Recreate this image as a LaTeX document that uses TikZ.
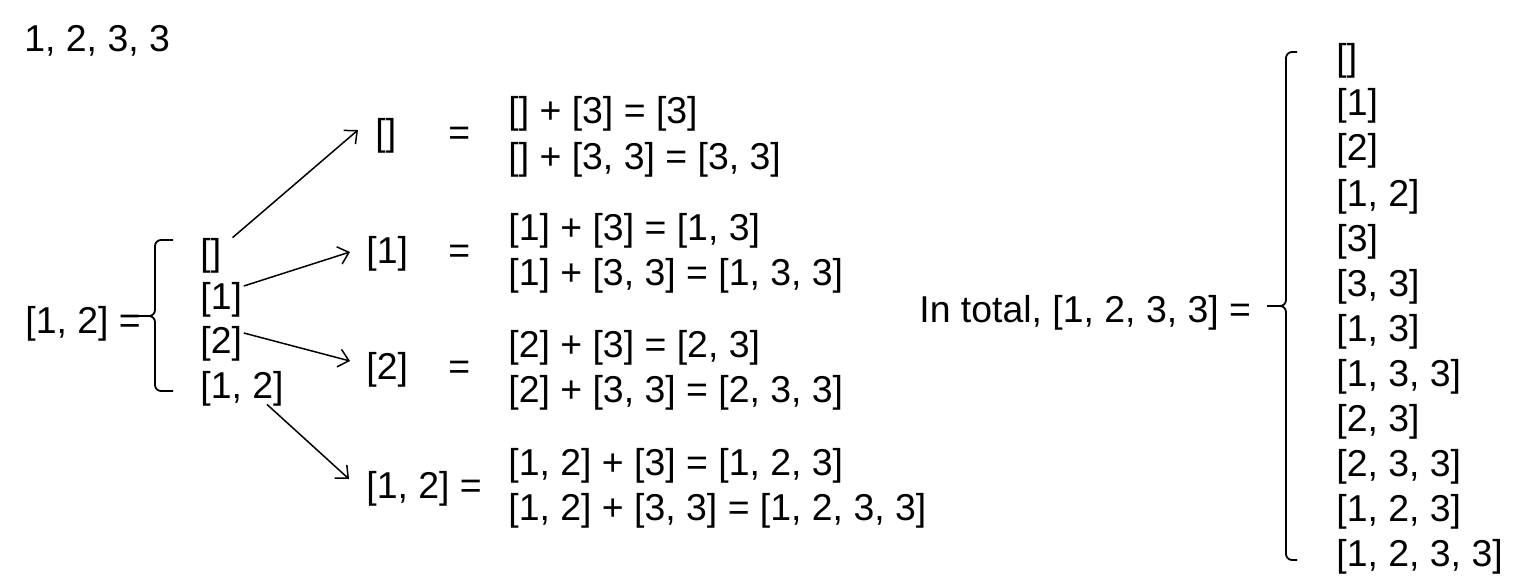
\documentclass[tikz,border=0pt]{standalone}
\usepackage{fontspec}
\setmainfont{Liberation Sans}
\usetikzlibrary{arrows.meta}

\tikzset{
  txt/.style={inner sep=0pt, anchor=west, text height=17.65pt, text depth=3.93pt},
  arr/.style={-{Straight Barb[length=5pt,width=9pt]}, line width=0.75pt},
  brace/.style={line width=0.9pt, rounded corners=3pt}
}

\begin{document}
\begin{tikzpicture}[x=0.5pt, y=-0.5pt, font=\fontsize{18.7pt}{22pt}\selectfont]
      \useasboundingbox (0,0) rectangle (1526,584);
      \node (top)[txt] at (24,38){1, 2, 3, 3};
      % left side
      \node (lhs)[txt] at (25,320){[1, 2] =};
      \draw [brace](173,240) -- (155,240) -- (155,316) -- (138,316);
      \draw [brace](138,316) -- (155,316) -- (155,391) -- (173,391);
      \node (l0)[txt] at (200,252){[]};
      \node (l1)[txt] at (200,296){[1]};
      \node (l2)[txt] at (200,340){[2]};
      \node (l3)[txt] at (200,385){[1, 2]};
      % middle
      \node (m0)[txt] at (375,132){[]};
      \node (m1)[txt] at (366,250){[1]};
      \node (m2)[txt] at (366,366){[2]};
      \node (m3)[txt] at (366,485){[1, 2] =};
      \node (q0)[txt] at (448,132){=};
      \node (q1)[txt] at (448,250){=};
      \node (q2)[txt] at (448,366){=};
      \draw [arr]([xshift=5.5pt,yshift=-3.8pt]l0.north east) -- ([xshift=-8.5pt,yshift=1pt]m0.west);
      \draw [arr]([xshift=0.7pt,yshift=5pt]l1.east) -- ([xshift=-8pt,yshift=-1pt]m1.west);
      \draw [arr]([xshift=0.7pt,yshift=3.5pt]l2.east) -- ([xshift=-8pt,yshift=2.5pt]m2.west);
      \draw [arr]([xshift=-8.5pt,yshift=1.3pt]l3.south east) -- ([xshift=-8.5pt,yshift=3pt]m3.west);
      % sums
      \node (s0a)[txt] at (508,110){[] + [3] = [3]};
      \node (s0b)[txt] at (508,156){[] + [3, 3] = [3, 3]};
      \node (s1a)[txt] at (508,227){[1] + [3] = [1, 3]};
      \node (s1b)[txt] at (508,272){[1] + [3, 3] = [1, 3, 3]};
      \node (s2a)[txt] at (508,344){[2] + [3] = [2, 3]};
      \node (s2b)[txt] at (508,389){[2] + [3, 3] = [2, 3, 3]};
      \node (s3a)[txt] at (508,462){[1, 2] + [3] = [1, 2, 3]};
      \node (s3b)[txt] at (508,507){[1, 2] + [3, 3] = [1, 2, 3, 3]};
      % right side
      \node (total)[txt] at (919,309){In total, [1, 2, 3, 3] =};
      \draw [brace](1297,52) -- (1286,52) -- (1286,306) -- (1267,306);
      \draw [brace](1267,306) -- (1286,306) -- (1286,560) -- (1297,560);
      \node (r0)[txt] at (1336,57){[]};
      \node (r1)[txt] at (1336,102.1){[1]};
      \node (r2)[txt] at (1336,147.2){[2]};
      \node (r3)[txt] at (1336,192.3){[1, 2]};
      \node (r4)[txt] at (1336,237.4){[3]};
      \node (r5)[txt] at (1336,282.5){[3, 3]};
      \node (r6)[txt] at (1336,327.6){[1, 3]};
      \node (r7)[txt] at (1336,372.7){[1, 3, 3]};
      \node (r8)[txt] at (1336,417.8){[2, 3]};
      \node (r9)[txt] at (1336,462.9){[2, 3, 3]};
      \node (r10)[txt] at (1336,508){[1, 2, 3]};
      \node (r11)[txt] at (1336,553.1){[1, 2, 3, 3]};
    \end{tikzpicture}
\end{document}
